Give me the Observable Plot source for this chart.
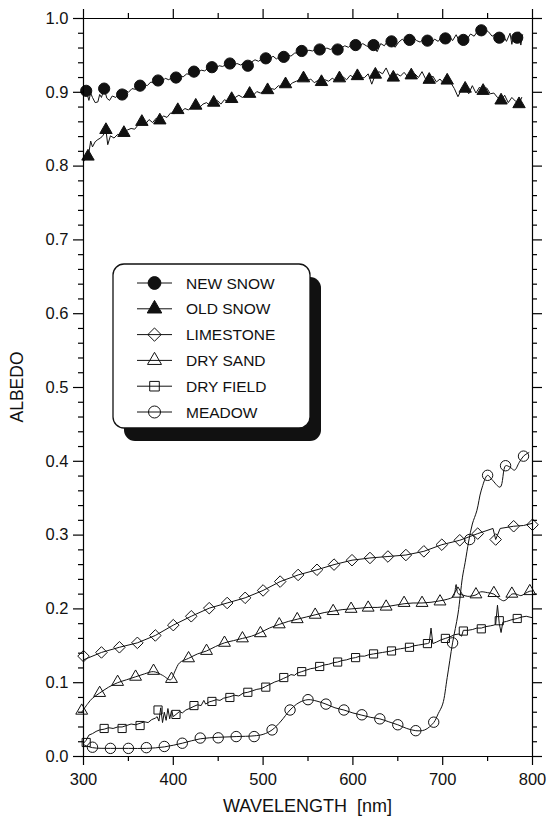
<!DOCTYPE html>
<html>
<head>
<meta charset="utf-8">
<script src="https://cdn.jsdelivr.net/npm/d3@7"></script>
<script src="https://cdn.jsdelivr.net/npm/@observablehq/plot@0.6"></script>
<style>
  html, body { margin: 0; padding: 0; background: #fff; }
</style>
</head>
<body>
<div id="chart"></div>
<script>
// ---------------- DATA ----------------
const seriesNames = ["NEW SNOW", "OLD SNOW", "LIMESTONE", "DRY SAND", "DRY FIELD", "MEADOW"];

const majorX = [300, 400, 500, 600, 700, 800];
const minorX = [350, 450, 550, 650, 750];
const majorY = [0.0, 0.1, 0.2, 0.3, 0.4, 0.5, 0.6, 0.7, 0.8, 0.9, 1.0];
const minorY = [0.02, 0.04, 0.06, 0.08, 0.12, 0.14, 0.16, 0.18, 0.22, 0.24, 0.26, 0.28,
  0.32, 0.34, 0.36, 0.38, 0.42, 0.44, 0.46, 0.48, 0.52, 0.54, 0.56, 0.58,
  0.62, 0.64, 0.66, 0.68, 0.72, 0.74, 0.76, 0.78, 0.82, 0.84, 0.86, 0.88,
  0.92, 0.94, 0.96, 0.98];

// NEW SNOW
const newSnowMarkX = [303, 323, 343, 363, 383, 403, 423, 443, 463, 483, 503, 523, 543, 563, 583, 603, 623, 643, 663, 683, 703, 723, 743, 763, 783];
const newSnowMarkY = [0.902, 0.905, 0.897, 0.909, 0.916, 0.920, 0.928, 0.934, 0.939, 0.936, 0.946, 0.948, 0.956, 0.958, 0.958, 0.964, 0.964, 0.969, 0.971, 0.970, 0.973, 0.971, 0.984, 0.974, 0.974];
const newSnowLine = [[300,.906],[302,.902],[304,.898],[306,.889],[308,.899],[310,.893],[313,.886],[316,.887],[318,.897],[320,.893],[323,.905],[326,.892],[329,.889],[332,.895],[336,.893],[340,.898],[343,.897],[347,.903],[350,.900],[354,.905],[358,.904],[363,.909],[367,.911],[371,.909],[375,.914],[379,.912],[383,.916],[387,.914],[391,.919],[395,.917],[399,.921],[403,.920],[407,.922],[411,.921],[415,.925],[419,.924],[423,.928],[427,.926],[431,.930],[435,.929],[439,.933],[443,.934],[447,.932],[451,.936],[455,.935],[459,.938],[463,.939],[467,.937],[471,.939],[475,.937],[479,.940],[483,.936],[487,.941],[491,.944],[495,.942],[499,.946],[503,.946],[507,.944],[511,.949],[515,.945],[519,.950],[523,.948],[527,.951],[531,.949],[535,.953],[539,.954],[543,.956],[547,.955],[551,.957],[555,.956],[559,.959],[563,.958],[567,.957],[571,.960],[575,.958],[579,.961],[583,.958],[587,.960],[591,.963],[595,.961],[599,.965],[603,.964],[607,.962],[611,.966],[615,.963],[619,.961],[623,.964],[627,.955],[631,.966],[635,.963],[639,.970],[643,.969],[647,.961],[651,.968],[655,.972],[659,.967],[663,.971],[667,.975],[671,.970],[675,.968],[679,.973],[683,.970],[687,.966],[691,.972],[695,.969],[699,.976],[703,.973],[707,.977],[711,.970],[715,.978],[719,.968],[723,.971],[727,.972],[731,.979],[735,.976],[739,.983],[743,.984],[747,.985],[751,.982],[755,.976],[759,.979],[763,.974],[767,.978],[771,.969],[775,.980],[777,.965],[779,.978],[783,.974],[785,.982],[787,.964],[789,.978]];

// OLD SNOW
const oldSnowMarkX = [305, 325, 345, 365, 385, 405, 425, 445, 465, 485, 505, 525, 545, 565, 585, 605, 625, 645, 665, 685, 705, 725, 745, 765, 785];
const oldSnowMarkY = [0.813, 0.849, 0.845, 0.860, 0.862, 0.876, 0.882, 0.886, 0.891, 0.898, 0.903, 0.911, 0.919, 0.914, 0.919, 0.922, 0.924, 0.920, 0.923, 0.917, 0.916, 0.905, 0.902, 0.889, 0.884];
const oldSnowLine = [[300,.806],[303,.812],[306,.818],[308,.834],[310,.826],[313,.833],[316,.836],[319,.838],[322,.842],[325,.849],[327,.829],[330,.841],[334,.838],[338,.843],[342,.842],[345,.845],[349,.849],[353,.851],[357,.850],[361,.856],[365,.860],[369,.857],[373,.863],[377,.859],[381,.865],[385,.862],[389,.868],[393,.866],[397,.872],[401,.871],[405,.876],[409,.874],[413,.878],[417,.876],[421,.881],[425,.882],[429,.879],[433,.884],[437,.886],[441,.882],[445,.886],[449,.889],[453,.884],[457,.890],[461,.887],[465,.891],[469,.893],[473,.896],[477,.893],[481,.897],[485,.898],[489,.896],[493,.901],[497,.899],[501,.902],[505,.903],[509,.905],[513,.904],[517,.909],[521,.907],[525,.911],[529,.909],[533,.913],[537,.915],[541,.917],[545,.919],[549,.915],[553,.918],[557,.913],[561,.916],[565,.914],[569,.917],[573,.915],[577,.919],[581,.916],[585,.919],[589,.921],[593,.917],[597,.923],[601,.920],[605,.922],[609,.919],[613,.920],[617,.925],[621,.911],[625,.924],[629,.928],[633,.925],[637,.933],[641,.922],[645,.920],[649,.925],[653,.922],[657,.927],[661,.921],[665,.923],[669,.925],[673,.920],[677,.928],[681,.918],[685,.917],[689,.922],[693,.914],[697,.918],[701,.912],[705,.916],[709,.913],[713,.905],[717,.894],[721,.904],[725,.905],[729,.898],[733,.909],[737,.899],[741,.907],[745,.902],[749,.906],[753,.898],[757,.899],[761,.893],[765,.889],[769,.896],[773,.886],[777,.893],[781,.888],[785,.884],[788,.893]];

// LIMESTONE
const limeMarkX = [300, 320, 340, 360, 380, 400, 420, 440, 460, 480, 500, 519, 539, 560, 579, 599, 619, 639, 659, 679, 699, 719, 739, 759, 779, 800];
const limeMarkY = [0.136, 0.141, 0.148, 0.154, 0.164, 0.178, 0.190, 0.201, 0.208, 0.215, 0.225, 0.237, 0.246, 0.253, 0.260, 0.266, 0.269, 0.271, 0.273, 0.278, 0.287, 0.293, 0.302, 0.294, 0.312, 0.314];
const limeLine = [[300,.131],[320,.141],[340,.148],[360,.154],[380,.164],[400,.178],[420,.190],[440,.201],[460,.208],[480,.215],[500,.225],[519,.237],[539,.246],[560,.253],[579,.260],[599,.266],[619,.269],[639,.271],[659,.273],[679,.278],[699,.287],[719,.293],[739,.302],[756,.309],[759,.294],[764,.309],[779,.312],[790,.313],[800,.316]];

// DRY SAND
const sandMarkX = [298, 318, 338, 358, 378, 398, 417, 437, 457, 477, 497, 518, 538, 558, 578, 598, 617, 637, 657, 677, 697, 717, 737, 757, 777, 797];
const sandMarkY = [0.062, 0.086, 0.101, 0.108, 0.116, 0.105, 0.133, 0.143, 0.154, 0.160, 0.167, 0.179, 0.186, 0.192, 0.197, 0.200, 0.2016, 0.203, 0.208, 0.208, 0.210, 0.2205, 0.2196, 0.2214, 0.2205, 0.224];
const sandLine = [[298,.060],[305,.072],[310,.079],[318,.086],[328,.094],[338,.100],[348,.104],[358,.108],[368,.112],[378,.115],[388,.110],[397,.104],[402,.116],[407,.127],[417,.133],[427,.139],[437,.143],[447,.149],[457,.154],[467,.157],[477,.160],[487,.163],[497,.168],[507,.174],[518,.179],[528,.183],[538,.186],[548,.189],[558,.192],[568,.195],[578,.197],[588,.199],[598,.200],[608,.201],[617,.202],[627,.202],[637,.203],[647,.205],[657,.207],[667,.208],[677,.208],[687,.209],[697,.211],[705,.213],[712,.217],[715,.233],[717,.221],[722,.219],[728,.217],[737,.219],[742,.223],[750,.222],[757,.220],[763,.214],[768,.211],[773,.215],[777,.220],[782,.220],[787,.218],[792,.221],[797,.224],[800,.224]];

// DRY FIELD
const fieldMarkX = [303, 323, 343, 363, 383, 403, 423, 443, 463, 483, 503, 523, 543, 563, 583, 603, 623, 643, 663, 683, 703, 723, 743, 763, 783];
const fieldMarkY = [0.019, 0.038, 0.038, 0.042, 0.063, 0.057, 0.069, 0.0746, 0.080, 0.087, 0.094, 0.107, 0.115, 0.122, 0.128, 0.134, 0.139, 0.143, 0.148, 0.153, 0.160, 0.170, 0.173, 0.184, 0.187];
const fieldLine = [[300,.018],[303,.022],[306,.029],[310,.031],[314,.034],[318,.036],[323,.037],[328,.039],[333,.038],[338,.040],[343,.040],[348,.042],[353,.044],[358,.043],[363,.045],[368,.047],[372,.046],[376,.050],[380,.052],[382,.054],[384,.048],[386,.066],[388,.046],[390,.060],[392,.049],[394,.065],[396,.051],[398,.062],[400,.054],[403,.057],[407,.061],[410,.059],[414,.063],[418,.065],[423,.068],[427,.070],[431,.069],[434,.076],[436,.071],[440,.074],[443,.075],[448,.077],[452,.076],[456,.079],[463,.081],[468,.083],[473,.082],[478,.086],[483,.087],[488,.089],[493,.091],[498,.092],[503,.095],[508,.098],[513,.101],[518,.103],[523,.106],[527,.108],[531,.111],[535,.110],[538,.113],[543,.115],[548,.117],[553,.119],[558,.120],[563,.122],[568,.124],[573,.125],[578,.127],[583,.128],[588,.130],[593,.131],[598,.133],[603,.134],[608,.136],[613,.136],[618,.138],[623,.139],[628,.140],[633,.141],[638,.142],[643,.143],[648,.145],[653,.146],[658,.147],[663,.148],[668,.150],[673,.151],[678,.152],[683,.153],[685,.154],[687,.174],[689,.153],[693,.155],[698,.158],[703,.160],[708,.162],[713,.165],[718,.166],[721,.163],[723,.171],[728,.171],[733,.172],[738,.174],[743,.174],[748,.176],[753,.177],[757,.178],[759,.179],[761,.205],[763,.180],[765,.168],[767,.182],[771,.183],[776,.185],[783,.187],[788,.189],[793,.190],[800,.188]];

// MEADOW
const meadowMarkX = [310, 330, 350, 370, 390, 410, 430, 450, 470, 490, 510, 530, 550, 570, 590, 610, 630, 650, 670, 690, 711, 730, 750, 770, 790];
const meadowMarkY = [0.0126, 0.011, 0.011, 0.012, 0.0136, 0.018, 0.025, 0.0253, 0.027, 0.027, 0.036, 0.063, 0.077, 0.071, 0.063, 0.0565, 0.051, 0.043, 0.035, 0.0465, 0.154, 0.294, 0.381, 0.394, 0.407];
const meadowLine = [[300,.016],[310,.012],[330,.011],[350,.011],[370,.011],[390,.013],[410,.018],[430,.024],[450,.026],[470,.027],[490,.028],[500,.030],[510,.036],[520,.048],[530,.063],[540,.073],[550,.077],[560,.075],[570,.071],[580,.066],[590,.063],[600,.059],[610,.056],[620,.053],[630,.051],[640,.047],[650,.043],[660,.038],[670,.035],[680,.036],[690,.046],[695,.058],[700,.071],[705,.107],[711,.154],[717,.193],[722,.243],[725,.263],[729,.292],[733,.315],[738,.333],[743,.361],[750,.381],[755,.375],[764,.365],[770,.394],[775,.392],[780,.388],[785,.398],[790,.407],[796,.412]];

// ---------------- LAYOUT ----------------
const INK = "#111";
const FONT = "'Liberation Sans', Arial, Helvetica, sans-serif";
const W = 548, H = 821;
// visible data frame edges (pixels)
const FL = 83, FR = 532, FT = 18, FB = 756;
// room kept inside Plot's own frame for the outward ticks
const PL = 10, PR = 10, PT = 9, PB = 9;
const kx = (FR - FL) / (800 - 300);   // px per nm
const ky = (FB - FT) / (1 - 0);       // px per albedo unit
const xDomain = [300 - PL / kx, 800 + PR / kx];
const yDomain = [0 - PB / ky, 1 + PT / ky];

const pts = (xs, ys) => xs.map((x, i) => ({x, y: ys[i]}));

const markerStyle = {
  "NEW SNOW":  {symbol: "circle",   fill: INK,    stroke: INK, r: 5.6},
  "OLD SNOW":  {symbol: "triangle", fill: INK,    stroke: INK, r: 4.6},
  "LIMESTONE": {symbol: "diamond2", fill: "none", stroke: INK, r: 5.2},
  "DRY SAND":  {symbol: "triangle", fill: "none", stroke: INK, r: 4.4},
  "DRY FIELD": {symbol: "square",   fill: "none", stroke: INK, r: 4.6},
  "MEADOW":    {symbol: "circle",   fill: "none", stroke: INK, r: 5.2}
};

const series = [
  {name: "NEW SNOW",  line: newSnowLine, marks: pts(newSnowMarkX, newSnowMarkY), curve: "linear"},
  {name: "OLD SNOW",  line: oldSnowLine, marks: pts(oldSnowMarkX, oldSnowMarkY), curve: "linear"},
  {name: "LIMESTONE", line: limeLine,    marks: pts(limeMarkX, limeMarkY),       curve: "linear"},
  {name: "DRY SAND",  line: sandLine,    marks: pts(sandMarkX, sandMarkY),       curve: "catmull-rom"},
  {name: "DRY FIELD", line: fieldLine,   marks: pts(fieldMarkX, fieldMarkY),     curve: "linear"},
  {name: "MEADOW",    line: meadowLine,  marks: pts(meadowMarkX, meadowMarkY),   curve: "catmull-rom"}
];

const tk = {stroke: "#000", strokeWidth: 1.2};
const marks = [];
for (const s of series) {
  marks.push(Plot.line(s.line, {x: d => d[0], y: d => d[1], stroke: INK, strokeWidth: 1, curve: s.curve}));
}
for (const s of series) {
  const st = markerStyle[s.name];
  marks.push(Plot.dot(s.marks, {x: "x", y: "y", symbol: () => st.symbol, r: st.r,
    fill: st.fill, stroke: st.stroke, strokeWidth: 1}));
}
marks.push(
  // visible frame at the data edges
  Plot.ruleX([300, 800], {y1: 0, y2: 1, ...tk}),
  Plot.ruleY([0, 1], {x1: 300, x2: 800, ...tk}),
  // outward ticks (offset from the frame edges by insets)
  Plot.ruleX(majorX, {y1: 0, y2: 0, insetTop: 9, ...tk}),
  Plot.ruleX(minorX, {y1: 0, y2: 0, insetTop: 5, ...tk}),
  Plot.ruleX(majorX, {y1: 1, y2: 1, insetBottom: 9, ...tk}),
  Plot.ruleX(minorX, {y1: 1, y2: 1, insetBottom: 5, ...tk}),
  Plot.ruleY(majorY, {x1: 300, x2: 300, insetRight: 10, ...tk}),
  Plot.ruleY(minorY, {x1: 300, x2: 300, insetRight: 5, ...tk}),
  Plot.ruleY(majorY, {x1: 800, x2: 800, insetLeft: 10, ...tk}),
  Plot.ruleY(minorY, {x1: 800, x2: 800, insetLeft: 5, ...tk}),
  // tick labels (placed just outside Plot's padded frame)
  Plot.axisX(majorX, {anchor: "bottom", tickSize: 0, tickPadding: 8, tickFormat: d => String(d), label: null}),
  Plot.axisY(majorY, {anchor: "left", tickSize: 0, tickPadding: 5, tickFormat: d3.format(".1f"), label: null})
);

const chart = Plot.plot({
  width: W,
  height: H,
  marginLeft: FL - PL,
  marginRight: W - FR - PR,
  marginTop: FT - PT,
  marginBottom: H - FB - PB,
  x: {domain: xDomain},
  y: {domain: yDomain},
  style: {fontFamily: FONT, fontSize: "16.5px", color: INK, background: "#fff", overflow: "visible"},
  marks
});

document.getElementById("chart").appendChild(chart);

const svg = d3.select(chart);
const sx = chart.scale("x"), sy = chart.scale("y");
const xl = sx.apply(300), xr = sx.apply(800), yb = sy.apply(0), yt = sy.apply(1);

// ---------------- AXIS TITLES & LEGEND ----------------
svg.append("text")
  .attr("x", (xl + xr) / 2)
  .attr("y", 812)
  .attr("text-anchor", "middle")
  .attr("fill", INK)
  .style("font-family", FONT)
  .style("font-size", "18px")
  .style("white-space", "pre")
  .text("WAVELENGTH  [nm]");

svg.append("text")
  .attr("transform", `translate(23,${(yt + yb) / 2}) rotate(-90)`)
  .attr("text-anchor", "middle")
  .attr("fill", INK)
  .style("font-family", FONT)
  .style("font-size", "17.5px")
  .text("ALBEDO");

const lg = svg.append("g").attr("class", "legend");
const bx = 113, by = 264, bw = 197, bh = 164;
lg.append("rect").attr("x", bx + 11).attr("y", by + 13).attr("width", bw).attr("height", bh)
  .attr("rx", 11).attr("fill", INK);
lg.append("rect").attr("x", bx).attr("y", by).attr("width", bw).attr("height", bh)
  .attr("rx", 11).attr("fill", "#fff").attr("stroke", INK).attr("stroke-width", 1.3);

const symType = {circle: d3.symbolCircle, triangle: d3.symbolTriangle, diamond2: d3.symbolDiamond2, square: d3.symbolSquare};
seriesNames.forEach((name, i) => {
  const cy = 283 + i * 25.8;
  const st = markerStyle[name];
  lg.append("line").attr("x1", 137).attr("x2", 172).attr("y1", cy).attr("y2", cy)
    .attr("stroke", INK).attr("stroke-width", 1);
  lg.append("path")
    .attr("transform", `translate(154.5,${cy})`)
    .attr("d", d3.symbol().type(symType[st.symbol]).size(Math.PI * (st.r + 0.8) * (st.r + 0.8))())
    .attr("fill", st.fill).attr("stroke", st.stroke).attr("stroke-width", 1);
  lg.append("text").attr("x", 186).attr("y", cy + 5.6)
    .attr("text-anchor", "start")
    .attr("fill", INK)
    .style("font-family", FONT).style("font-size", "15.5px")
    .text(name);
});
</script>
</body>
</html>
